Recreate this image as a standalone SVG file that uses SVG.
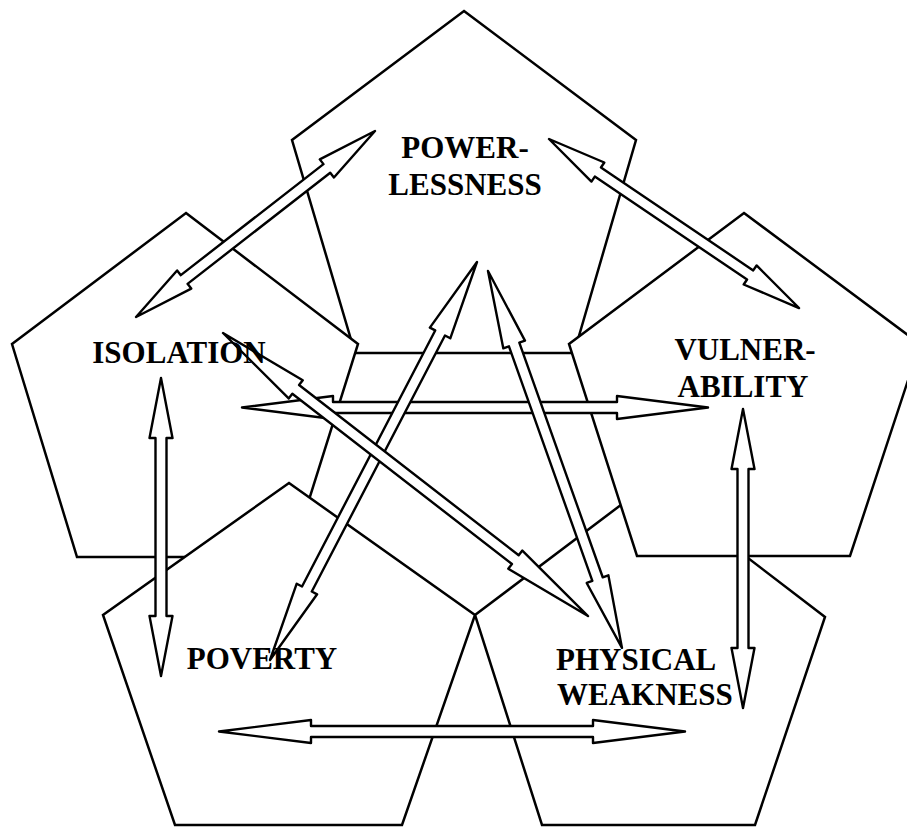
<svg xmlns="http://www.w3.org/2000/svg" width="907" height="827" viewBox="0 0 907 827">
<style>
.pent{fill:#fff;stroke:#000;stroke-width:2.5;stroke-linejoin:miter}
.arr{fill:#fff;stroke:#000;stroke-width:2.4;stroke-linejoin:round}
.lbl{font-family:"Liberation Serif","Times New Roman",serif;font-weight:bold;font-size:31px;fill:#000}
</style>
<rect width="907" height="827" fill="#fff"/>
<g id="node-powerlessness"><polygon class="pent" points="464,11 636,140 574,353 355,353 292,140"/></g>
<g id="node-physical-weakness"><polygon class="pent" points="650,483 825,617 755,825 542,825 475,615"/></g>
<g id="node-vulnerability"><polygon class="pent" points="744,213 920,344 850,556 637,556 569,344"/></g>
<g id="node-isolation"><polygon class="pent" points="186,213 358,344 291,557 77,557 12,344"/></g>
<g id="node-poverty"><polygon class="pent" points="289,483 475,615 402,825 175,825 103,615"/></g>
<g id="connectors">
<!-- isolation <-> vulnerability -->
<g transform="translate(242,407.5)"><polygon class="arr" points="0,0 91,-11.5 91,-5.5 375,-5.5 375,-11.5 466,0 375,11.5 375,5.5 91,5.5 91,11.5"/></g>
<!-- poverty <-> physical weakness -->
<g transform="translate(219,731.5)"><polygon class="arr" points="0,0 92,-11.5 92,-5.5 374,-5.5 374,-11.5 466,0 374,11.5 374,5.5 92,5.5 92,11.5"/></g>
<!-- isolation <-> poverty -->
<g transform="translate(161,378) rotate(90)"><polygon class="arr" points="0,0 60,-11.5 60,-5.5 238,-5.5 238,-11.5 298,0 238,11.5 238,5.5 60,5.5 60,11.5"/></g>
<!-- vulnerability <-> physical weakness -->
<g transform="translate(743,409) rotate(90)"><polygon class="arr" points="0,0 60,-11.5 60,-5.5 239,-5.5 239,-11.5 299,0 239,11.5 239,5.5 60,5.5 60,11.5"/></g>
<!-- powerlessness <-> poverty -->
<g transform="translate(477,262) rotate(117.48)"><polygon class="arr" points="0,0 80,-11.5 80,-5.5 368.6,-5.5 368.6,-11.5 448.6,0 368.6,11.5 368.6,5.5 80,5.5 80,11.5"/></g>
<!-- powerlessness <-> physical weakness -->
<g transform="translate(488,271) rotate(70.43)"><polygon class="arr" points="0,0 78,-11.5 78,-5.5 327,-5.5 327,-11.5 400,0 327,11.5 327,5.5 78,5.5 78,11.5"/></g>
<!-- isolation <-> physical weakness -->
<g transform="translate(223,333) rotate(37.79)"><polygon class="arr" points="0,0 92,-11.5 92,-5.5 369.9,-5.5 369.9,-11.5 461.9,0 369.9,11.5 369.9,5.5 92,5.5 92,11.5"/></g>
<!-- powerlessness <-> isolation -->
<g transform="translate(375,131) rotate(142.11)"><polygon class="arr" points="0,0 61,-11.5 61,-5.5 241.8,-5.5 241.8,-11.5 302.8,0 241.8,11.5 241.8,5.5 61,5.5 61,11.5"/></g>
<!-- powerlessness <-> vulnerability -->
<g transform="translate(549,139) rotate(34.06)"><polygon class="arr" points="0,0 59,-11.5 59,-5.5 242.8,-5.5 242.8,-11.5 301.8,0 242.8,11.5 242.8,5.5 59,5.5 59,11.5"/></g>
</g>
<g id="labels">
<text id="label-powerlessness" class="lbl" text-anchor="middle"><tspan x="465" y="158">POWER-</tspan><tspan x="465" y="195">LESSNESS</tspan></text>
<text id="label-isolation" class="lbl" text-anchor="middle" x="179" y="363">ISOLATION</text>
<text id="label-vulnerability" class="lbl" text-anchor="middle"><tspan x="745" y="360">VULNER-</tspan><tspan x="743" y="397">ABILITY</tspan></text>
<text id="label-poverty" class="lbl" text-anchor="middle" x="262" y="669">POVERTY</text>
<text id="label-physical-weakness" class="lbl"><tspan x="556" y="670">PHYSICAL</tspan><tspan x="557" y="705">WEAKNESS</tspan></text>
</g>
</svg>
